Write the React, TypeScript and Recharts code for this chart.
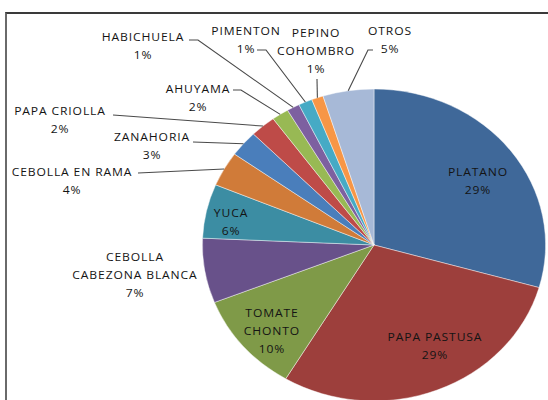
import { PieChart, Pie, Cell } from "recharts";

const CATEGORIES = [
  "PLATANO",
  "PAPA PASTUSA",
  "TOMATE CHONTO",
  "CEBOLLA CABEZONA BLANCA",
  "YUCA",
  "CEBOLLA EN RAMA",
  "ZANAHORIA",
  "PAPA CRIOLLA",
  "AHUYAMA",
  "HABICHUELA",
  "PIMENTON",
  "PEPINO COHOMBRO",
  "OTROS",
];

const SHARES = [29.4, 29.2, 10.4, 6.7, 5.6, 3.6, 2.7, 2.4, 1.6, 1.2, 1.3, 1.1, 4.8];

const COLORS = [
  "#3f6899",
  "#9d3f3c",
  "#7f9a48",
  "#68518a",
  "#3c8da3",
  "#d07b39",
  "#4a7ebb",
  "#be4b48",
  "#98b954",
  "#7d60a0",
  "#46aac5",
  "#f79646",
  "#a7b9d7",
];

// names that excel wrapped onto two lines
const WRAPPED: Record<string, string[]> = {
  "TOMATE CHONTO": ["TOMATE", "CHONTO"],
  "CEBOLLA CABEZONA BLANCA": ["CEBOLLA", "CABEZONA BLANCA"],
  "PEPINO COHOMBRO": ["PEPINO", "COHOMBRO"],
};

// the original picture is stretched sideways, so the chart is drawn narrower and scaled
const SX = 1.1;
const W = 548;
const H = 400;

type Layout = { x: number; y: number; leader?: [number, number][] };

// label centres in page pixels; leader lines end on the slice rim
const LAYOUT: Layout[] = [
  { x: 478, y: 172 },
  { x: 435, y: 337 },
  { x: 272, y: 313 },
  { x: 135, y: 257 },
  { x: 231, y: 213 },
  { x: 72, y: 172, leader: [[138, 173]] },
  { x: 152, y: 137, leader: [[193, 142]] },
  { x: 60, y: 111, leader: [[113, 115]] },
  { x: 198, y: 89, leader: [[233, 90], [241, 90]] },
  { x: 143, y: 37, leader: [[189, 40], [198, 40]] },
  { x: 246, y: 31, leader: [[257, 50], [266, 50]] },
  { x: 316, y: 33, leader: [[317, 79]] },
  { x: 390, y: 31, leader: [[373, 50], [368, 50]] },
];

const data = CATEGORIES.map((name, i) => ({ name, value: SHARES[i] }));

const renderLabel = (props: any) => {
  const { cx, cy, midAngle, outerRadius, index, percent } = props;
  const lay = LAYOUT[index];
  const name = CATEGORIES[index];
  const lines = [...(WRAPPED[name] ?? [name]), `${Math.round(percent * 100)}%`];
  const rad = (-midAngle * Math.PI) / 180;
  const ex = cx + outerRadius * Math.cos(rad);
  const ey = cy + outerRadius * Math.sin(rad);
  const tx = lay.x / SX;

  return (
    <g key={`label-${index}`}>
      {lay.leader && (
        <polyline
          points={[...lay.leader.map(([x, y]) => `${x / SX},${y}`), `${ex},${ey}`].join(" ")}
          fill="none"
          stroke="#4a4a4a"
          strokeWidth={1}
        />
      )}
      <text
        textAnchor="middle"
        fill="#141414"
        fontSize={11}
        fontFamily="'Open Sans', sans-serif"
        letterSpacing={0.8}
      >
        {lines.map((line, i) => (
          <tspan key={i} x={tx} y={lay.y + 4 + i * 18}>
            {line}
          </tspan>
        ))}
      </text>
    </g>
  );
};

export default function App() {
  return (
    <div
      style={{
        position: "absolute",
        left: 0,
        top: 0,
        width: W,
        height: H,
        overflow: "hidden",
        background: "#fff",
      }}
    >
      <div
        style={{
          position: "absolute",
          left: 5,
          top: 12,
          width: 700,
          height: 600,
          borderTop: "2px solid #3a3a3a",
          borderLeft: "2px solid #6a6a6a",
        }}
      />
      <div
        style={{
          position: "absolute",
          left: 0,
          top: 0,
          width: W / SX,
          height: H,
          transform: `scaleX(${SX})`,
          transformOrigin: "0 0",
        }}
      >
        <PieChart
          width={W / SX}
          height={H}
          margin={{ top: 0, right: 0, bottom: 0, left: 0 }}
        >
          <Pie
            data={data}
            dataKey="value"
            nameKey="name"
            cx={374 / SX}
            cy={245}
            outerRadius={156}
            startAngle={90}
            endAngle={-270}
            stroke="rgba(255,255,255,0.6)"
            strokeWidth={0.7}
            label={renderLabel}
            labelLine={false}
            isAnimationActive={false}
          >
            {data.map((_, i) => (
              <Cell key={`cell-${i}`} fill={COLORS[i]} />
            ))}
          </Pie>
        </PieChart>
      </div>
    </div>
  );
}
